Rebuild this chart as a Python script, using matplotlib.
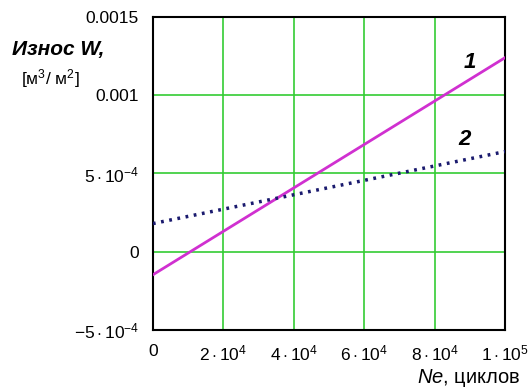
import matplotlib
matplotlib.use("Agg")
import matplotlib.pyplot as plt

plt.rcParams['font.family'] = ['Liberation Sans', 'DejaVu Sans']
plt.rcParams['mathtext.fontset'] = 'custom'
plt.rcParams['mathtext.rm'] = 'Liberation Sans'
plt.rcParams['mathtext.it'] = 'Liberation Sans:italic'

# data
ne = [0, 1e5]
wear_1 = [-1.47e-4, 1.24e-3]
wear_2 = [1.8e-4, 6.4e-4]
xticks = [0, 2e4, 4e4, 6e4, 8e4, 1e5]
xtick_labels = ['0', r'$2\cdot10^4$', r'$4\cdot10^4$', r'$6\cdot10^4$', r'$8\cdot10^4$', r'$1\cdot10^5$']
yticks = [-5e-4, 0, 5e-4, 1e-3, 1.5e-3]
ytick_labels = [r'$-5\cdot10^{-4}$', '0', r'$5\cdot10^{-4}$', '0.001', '0.0015']

fig = plt.figure(figsize=(5.29, 3.92), dpi=100)
ax = fig.add_axes([0.289, 0.158, 0.666, 0.799])

ax.plot(ne, wear_1, color='#d030d0', lw=2, zorder=3)
ax.plot(ne, wear_2, color='#1a1a6e', lw=2.5, linestyle=(0, (0.8, 1.6)), zorder=3)

ax.set_xlim(0, 1e5)
ax.set_ylim(-5e-4, 1.5e-3)
ax.set_xticks(xticks)
ax.set_xticklabels(xtick_labels)
ax.set_yticks(yticks)
ax.set_yticklabels(ytick_labels)
ax.tick_params(length=0, labelsize=12.5, pad=10)
ax.grid(True, color='#33cc33', lw=1.2)
for s in ax.spines.values():
    s.set_linewidth(1.5)
    s.set_color('black')

ax.text(0.90, 0.855, '1', transform=ax.transAxes, fontsize=16,
        fontweight='bold', style='italic', ha='center', va='center')
ax.text(0.885, 0.61, '2', transform=ax.transAxes, fontsize=16,
        fontweight='bold', style='italic', ha='center', va='center')

fig.text(0.022, 0.875, 'Износ W,', fontsize=15, style='italic',
         fontweight='bold', ha='left', va='center')
fig.text(0.04, 0.80, r'[м$^3$/ м$^2$]', fontsize=12.5,
         ha='left', va='center')
fig.text(0.983, 0.035, r'$\it{Ne}$, циклов', fontsize=14.5,
         ha='right', va='center')

fig.savefig('out.png', dpi=100)
